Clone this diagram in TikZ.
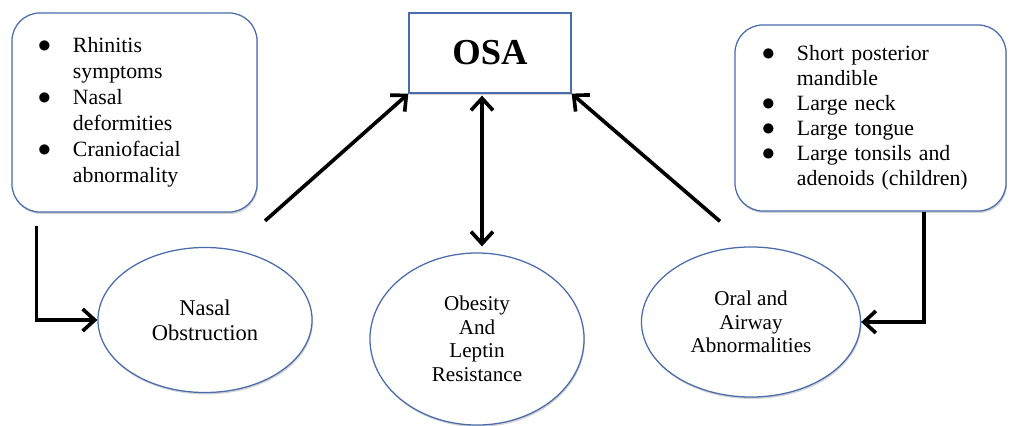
\documentclass[tikz,border=0pt]{standalone}
\usepackage{fontspec}
\setmainfont{Liberation Serif}
\usetikzlibrary{shapes.geometric,arrows.meta,calc,shadows}
\definecolor{osablue}{RGB}{74,108,172}
\tikzset{
  softshadow/.style={drop shadow={shadow xshift=0.6pt,shadow yshift=-1.4pt,opacity=0.35}},
  listbox/.style={draw=osablue,line width=0.9pt,rounded corners=0.7cm,fill=white,softshadow,inner sep=0pt},
  cause/.style={ellipse,draw=osablue,line width=0.9pt,fill=white,softshadow,inner sep=0pt,align=center},
  arr/.style={line width=2.6pt,-{Straight Barb[length=3mm,width=5.5mm]}},
}
\newcommand{\itm}{\smash{\scalebox{1.3}{$\bullet$}}}
\begin{document}
\begin{tikzpicture}[x=0.025cm,y=-0.025cm]
\useasboundingbox (0,0) rectangle (1010,426);
% top box
\node[draw=osablue,line width=0.9pt,fill=white,softshadow,minimum width=4.05cm,minimum height=2cm,
  font=\fontsize{26}{30}\selectfont\bfseries] (osa) at (490,53) {OSA};
% list boxes
\node[listbox,minimum width=6.125cm,minimum height=4.975cm,text width=4.825cm,align=left,
  font=\fontsize{15.5}{18.5}\selectfont] (lbox) at (134.5,112.5) {%
  \begin{tabular}{@{}p{0.875cm}@{}l@{}}
  \itm & Rhinitis\\
       & symptoms\\
  \itm & Nasal\\
       & deformities\\
  \itm & Craniofacial\\
       & abnormality
  \end{tabular}};
\node[listbox,minimum width=6.775cm,minimum height=4.65cm,text width=5.425cm,align=left,
  font=\fontsize{15.5}{17.8}\selectfont] (rbox) at (870.5,118) {%
  \begin{tabular}{@{}p{0.875cm}@{}l@{}}
  \itm & Short posterior\\
       & mandible\\
  \itm & Large neck\\
  \itm & Large tongue\\
  \itm & Large tonsils and\\
       & adenoids (children)
  \end{tabular}};
% causes
\node[cause,minimum width=5.35cm,minimum height=3.625cm,font=\fontsize{16}{17.8}\selectfont]
  (nasal) at (205,320) {Nasal\\Obstruction};
\node[cause,minimum width=5.35cm,minimum height=4.3cm,font=\fontsize{15}{16.7}\selectfont]
  (obesity) at (477,339) {Obesity\\And\\Leptin\\Resistance};
\node[cause,minimum width=5.475cm,minimum height=3.75cm,font=\fontsize{15}{16.7}\selectfont]
  (oral) at (751,322) {Oral and\\Airway\\Abnormalities};
% connectors
\draw[arr] ($(lbox.south west)+(25,13)$) |- (nasal.west);
\draw[arr] ($(rbox.south)+(53.5,0)$) |- (oral.east);
\draw[arr] ($(nasal.north)+(60,-26)$) -- (osa.south west);
\draw[arr] ($(oral.north)+(-31,-25)$) -- (osa.south east);
\draw[arr,{Straight Barb[length=3mm,width=5.5mm]}-{Straight Barb[length=3mm,width=5.5mm]}]
  ($(osa.south)+(-8,2)$) -- ($(osa.south |- obesity.north)+(-8,-6)$);
\end{tikzpicture}
\end{document}
